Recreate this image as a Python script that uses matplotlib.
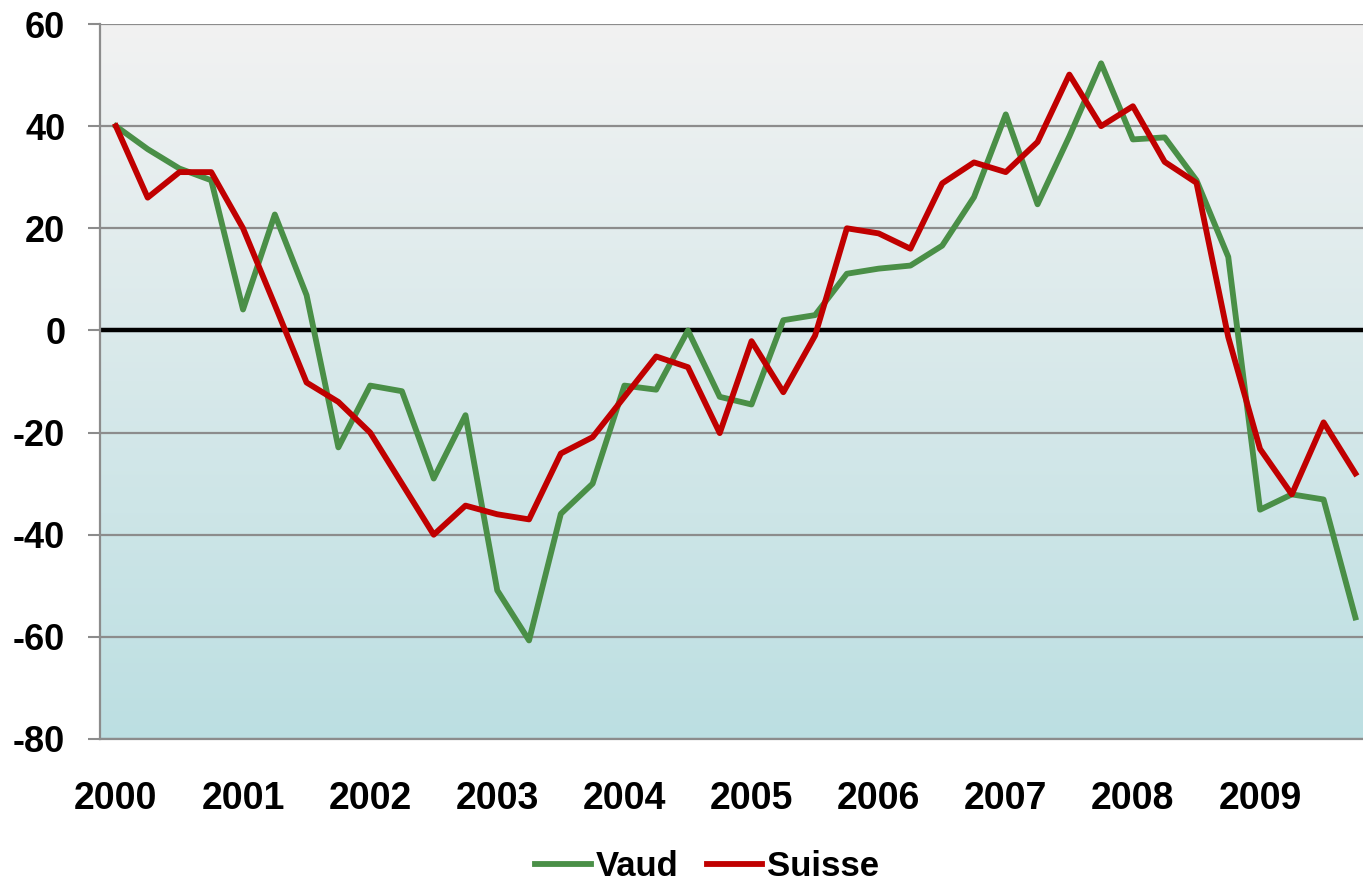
import numpy as np
import matplotlib.pyplot as plt
from matplotlib.colors import LinearSegmentedColormap
from matplotlib.lines import Line2D

# quarterly values, 2000 Q1 .. 2009 Q4
vaud = [40, 35.5, 31.7, 29.4, 4.1, 22.7, 6.9, -22.9,
        -10.8, -11.9, -29, -16.6, -50.9, -60.7, -35.9, -30,
        -10.8, -11.6, 0, -13, -14.5, 2, 3, 11.1,
        12.1, 12.7, 16.6, 26.1, 42.3, 24.7, 38, 52.3,
        37.4, 37.8, 29.4, 14.4, -35.1, -32.1, -33.1, -56.2]
suisse = [40, 26, 31, 31, 20, 5, -10.2, -14,
          -20, -30, -40, -34.3, -36, -37, -24.1, -20.9,
          -13, -5.1, -7.2, -20.1, -2.1, -12.1, -1, 20,
          19, 16, 28.8, 32.9, 31, 36.9, 50.1, 40,
          43.9, 33, 28.9, -1.3, -23.2, -32.1, -18, -28]
years = list(range(2000, 2010))
x = 2000 + np.arange(len(vaud)) / 4

plt.rcParams['font.family'] = ['Liberation Sans', 'DejaVu Sans']
plt.rcParams['font.weight'] = 'bold'
plt.rcParams['axes.unicode_minus'] = False

fig = plt.figure(figsize=(13.63, 8.86), dpi=100)
ax = fig.add_axes([100 / 1363, (886 - 739) / 886, 1 - 100 / 1363, (739 - 24) / 886])

# background gradient of the plot area
cmap = LinearSegmentedColormap.from_list('bg', ['#F2F2F2', '#BCDFE2'])
ax.imshow(np.linspace(0, 1, 256).reshape(-1, 1), aspect='auto', cmap=cmap,
          extent=[0, 1, 0, 1], transform=ax.transAxes, zorder=0)

ax.set_ylim(-80, 60)
ax.set_xlim(1999.875, 2009.81)
ax.set_yticks(range(-80, 61, 20))
ax.grid(axis='y', color='#8C8C8C', linewidth=1.6, zorder=1)
ax.axhline(0, color='black', linewidth=3.2, zorder=2)

ax.plot(x, vaud, color='#4A8F47', linewidth=4.2, label='Vaud', zorder=3)
ax.plot(x, suisse, color='#C00000', linewidth=4.2, label='Suisse', zorder=4)

ax.set_xticks(years)
ax.set_xticklabels([str(y) for y in years])
ax.tick_params(axis='x', length=0, pad=30, labelsize=27)
ax.tick_params(axis='y', length=9, width=1.5, color='#8C8C8C', pad=16, labelsize=26)

for s in ['top', 'right']:
    ax.spines[s].set_visible(False)
ax.spines['left'].set_color('#8C8C8C')
ax.spines['left'].set_linewidth(1.6)
ax.spines['bottom'].set_color('#8C8C8C')
ax.spines['bottom'].set_linewidth(1.6)

handles = [Line2D([], [], color='#4A8F47', linewidth=4.2),
           Line2D([], [], color='#C00000', linewidth=4.2)]
fig.legend(handles, ['Vaud', 'Suisse'], loc='center', bbox_to_anchor=(0.519, 0.022),
           ncol=2, frameon=False, fontsize=25, handlelength=1.6,
           handletextpad=0.15, columnspacing=0.8, borderpad=0.2)

fig.savefig('out.png', dpi=100)
